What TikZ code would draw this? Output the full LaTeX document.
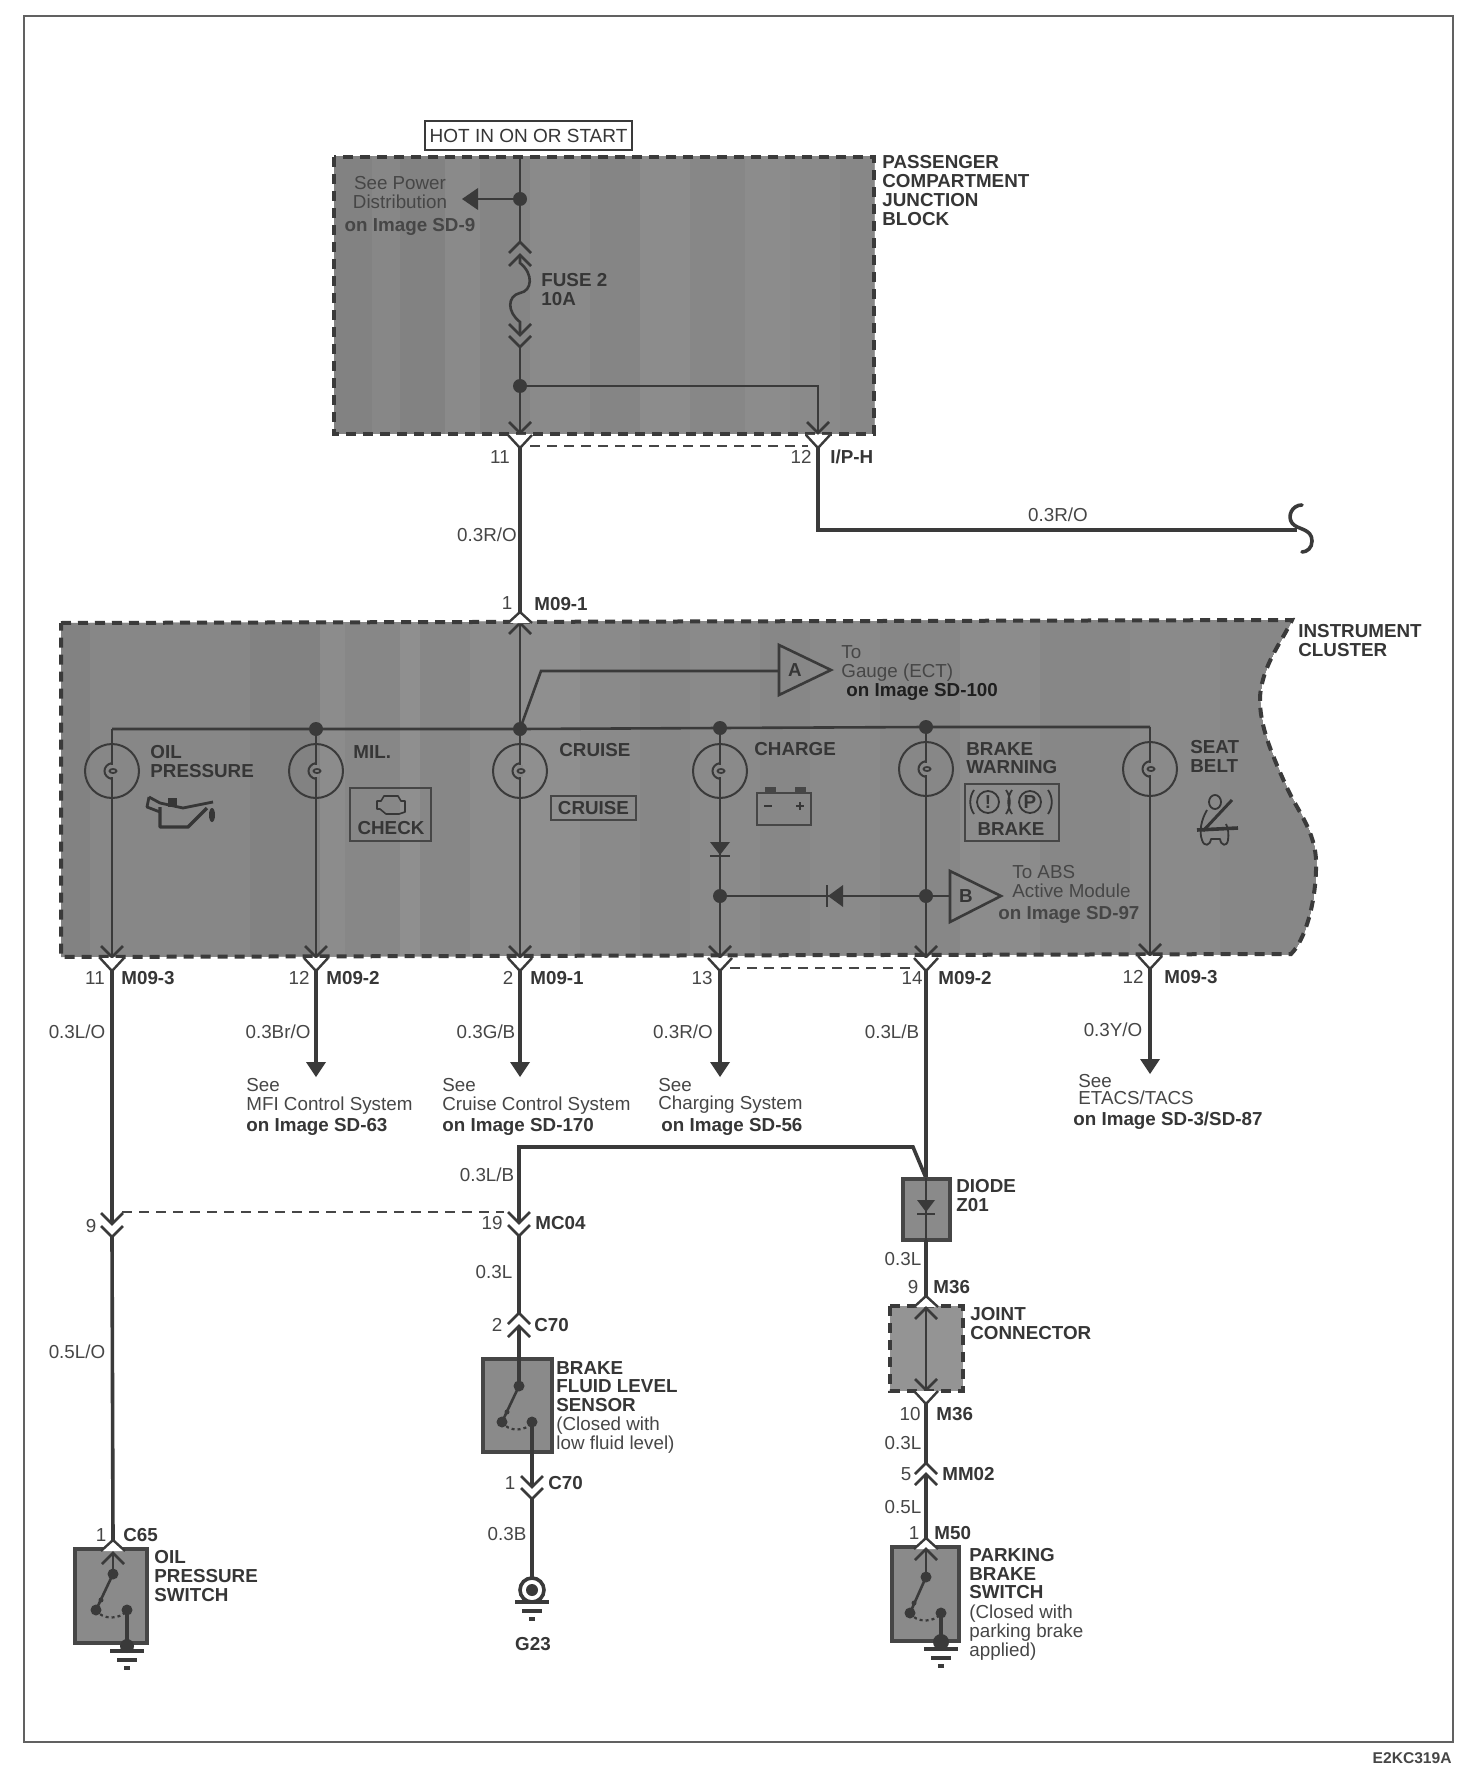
\documentclass[tikz,border=0pt]{standalone}
\usepackage{fontspec}
\setmainfont{Liberation Sans}
\definecolor{wirec}{HTML}{3A3A3A}
\definecolor{inkc}{HTML}{363636}
\definecolor{softc}{HTML}{464646}
\definecolor{boxc}{HTML}{8A8A8A}
\tikzset{
  txt/.style={inner sep=0pt,text height=6.7pt,text depth=0pt,anchor=west,font=\fontsize{9.4}{9.5}\selectfont,text=softc},
  txb/.style={txt,font=\fontsize{9.4}{9.5}\bfseries\selectfont,text=inkc},
  ctr/.style={txt,anchor=center},
  ctb/.style={txb,anchor=center},
  wire/.style={draw=wirec,line width=1.8pt},
  thin wire/.style={draw=wirec,line width=1.3pt},
  chev/.style={draw=wirec,line width=1.3pt,fill=none},
  jdot/.style={fill=wirec},
  dashbox/.style={draw=wirec,line width=2pt,dash pattern=on 5pt off 3.5pt},
  solidbox/.style={draw=softc,line width=2.2pt,fill=boxc},
  tie/.style={draw=softc,line width=.9pt,dash pattern=on 5pt off 3.5pt}
}
\newcommand{\chevDown}[2]{\draw[chev] (#1-11,#2-11)--(#1,#2)--(#1+11,#2-11);}
\newcommand{\chevUp}[2]{\draw[chev] (#1-11,#2+11)--(#1,#2)--(#1+11,#2+11);}
\newcommand{\whiteV}[2]{\path[fill=white,draw=wirec,line width=1.2pt] (#1-12,#2)--(#1,#2+13)--(#1+12,#2);}
\newcommand{\whiteA}[2]{\path[fill=white,draw=wirec,line width=1.2pt] (#1-12,#2+11)--(#1,#2)--(#1+12,#2+11);}
\newcommand{\lamp}[2]{%
  \fill[black!47] (#1-3,#2-6) rectangle (#1+3,#2+6);
  \draw[draw=wirec,line width=1pt] (#1,#2) circle [radius=27];
  \draw[draw=wirec,line width=1pt] (#1,#2-8) .. controls (#1-10,#2-6) and (#1-10,#2+6) .. (#1,#2+8);
  \draw[draw=wirec,line width=.9pt] (#1+1,#2) ellipse [x radius=3.5,y radius=2];
}
\newcommand{\gnd}[2]{%
  \draw[wirec,line width=2pt] (#1-17,#2)--(#1+17,#2);
  \draw[wirec,line width=2pt] (#1-10,#2+9)--(#1+10,#2+9);
  \draw[wirec,line width=2pt] (#1-3,#2+17)--(#1+3,#2+17);
}
\newcommand{\switchsym}[7]{%
  \fill[jdot] (#1,#2) circle [radius=5.5];
  \fill[jdot] (#3,#4) circle [radius=5.5];
  \fill[jdot] (#5,#4) circle [radius=5.5];
  \fill[jdot] (#6,#7) circle [radius=2.5];
  \draw[wirec,line width=1.3pt] (#1,#2)--(#3,#4);
  \draw[wirec,line width=1.1pt,dash pattern=on 1.5pt off 1.5pt] (#3,#4) .. controls (#3+6,#4+10) and (#5-6,#4+10) .. (#5,#4);
}
\newcommand{\clusterpath}{(61,623)--(1292,620) .. controls (1283,640) and (1262,665) .. (1260,697) .. controls (1259,725) and (1272,755) .. (1288,790) .. controls (1300,815) and (1318,835) .. (1316,870) .. controls (1315,905) and (1305,940) .. (1291,954)--(61,957)--cycle}
\begin{document}
\begin{tikzpicture}[x=0.5pt,y=-0.5pt]
\useasboundingbox (0,0) rectangle (1476,1786);
\fill[white] (0,0) rectangle (1476,1786);
\draw[draw=black!62,line width=1.2pt] (24,16) rectangle (1453,1742);
\node[txb,anchor=east,font=\fontsize{7.8}{9}\bfseries\selectfont,text=softc,text height=5.6pt] (figid) at (1452,1758) {E2KC319A};

% ---------- passenger compartment junction block
\node[draw=wirec,line width=1pt,minimum width=103.5pt,minimum height=14.5pt,inner sep=0pt,
      font=\fontsize{9.5}{9.5}\selectfont,text=inkc] (hot) at (528.5,135.5) {HOT IN ON OR START};
\begin{scope}
\clip (334,157) rectangle (874,434);
\foreach \bx/\bg in {334/49,372/47,400/49,445/46,480/48,530/46,590/48,640/45,690/47,745/45,790/46,840/47}{
  \fill[black!\bg] (\bx,150) rectangle (880,440);}
\end{scope}
\draw[dashbox] (334,157) rectangle (874,434);
\coordinate (jbtop) at (520,157);
\coordinate (jbtap) at (520,199);
\coordinate (jbarrow) at (478,199);
\coordinate (fuseT) at (520,242);
\coordinate (fuseB) at (520,347);
\coordinate (jbsplit) at (520,386);
\coordinate (jbcorner) at (818,386);
\coordinate (p11) at (520,433);
\coordinate (p12) at (818,433);
\draw[thin wire] (jbtop)--(fuseT);
\draw[thin wire] (jbtap)--(jbarrow);
\fill[wirec] (462,199)--(478,188)--(478,210)--cycle;
\fill[jdot] (jbtap) circle [radius=7];
\chevUp{520}{242}\chevUp{520}{255}
\draw[thin wire] (520,255)--(520,263) .. controls (534,274) and (532,291) .. (520,293) .. controls (507,296) and (507,312) .. (520,322)--(520,335);
\chevDown{520}{335}\chevDown{520}{347}
\draw[thin wire] (fuseB)--(p11);
\draw[thin wire] (jbsplit)--(jbcorner)--(p12);
\fill[jdot] (jbsplit) circle [radius=7];
\chevDown{520}{433}\chevDown{818}{433}
\whiteV{520}{435}\whiteV{818}{435}
\draw[tie] (530,446)--(808,446);
\node[txt,anchor=center] (tp1) at (400,183) {See Power};
\node[txt,anchor=center] (tp2) at (400,202) {Distribution};
\node[txb,anchor=center,text=softc] (tp3) at (410,225) {on Image SD-9};
\node[txb] (fs1) at (541,280) {FUSE 2};
\node[txb] (fs2) at (541,299) {10A};
\node[txb] (jb1) at (882,162) {PASSENGER};
\node[txb] (jb2) at (882,181) {COMPARTMENT};
\node[txb] (jb3) at (882,200) {JUNCTION};
\node[txb] (jb4) at (882,219) {BLOCK};
\node[ctr] (n11a) at (500,457) {11};
\node[ctr] (n12a) at (801,457) {12};
\node[txb] (ipH) at (830,457) {I/P-H};

% wires between the two blocks
\coordinate (w12a) at (818,448);
\coordinate (w12b) at (818,530);
\coordinate (w12c) at (1297,530);
\coordinate (p1) at (520,612);
\draw[wire] (520,448)--(p1);
\draw[wire] (w12a)--(w12b)--(w12c);
\draw[wirec,line width=1.8pt,line cap=round] (1302,505) .. controls (1292,505) and (1287,516) .. (1292,523) .. controls (1297,530) and (1312,528) .. (1312,541) .. controls (1312,548) and (1307,552) .. (1302,552);
\node[ctr] (wl1) at (487,535) {0.3R/O};
\node[ctr] (wl2) at (1058,515) {0.3R/O};
\node[ctr] (n1a) at (507,603) {1};
\node[txb] (m091a) at (534,604) {M09-1};

% ---------- instrument cluster
\begin{scope}
\clip \clusterpath;
\foreach \bx/\bg in {55/49,90/47,190/47,250/49,320/45,345/47,400/44,420/47,470/45,520/44,580/46,640/47,690/46,760/47,810/46,880/47,960/45,1040/47,1130/46,1220/47}{
  \fill[black!\bg] (\bx,610) rectangle (1330,965);}
\end{scope}
\draw[dashbox] \clusterpath;
\coordinate (busL) at (112,729);
\coordinate (busR) at (1150,727);
\coordinate (bOil) at (112,957);
\coordinate (bMil) at (316,957);
\coordinate (bCru) at (520,957);
\coordinate (bCha) at (720,957);
\coordinate (bBra) at (926,957);
\coordinate (bSea) at (1150,955);
\coordinate (dMil) at (316,729);
\coordinate (dCru) at (520,729);
\coordinate (dCha) at (720,728);
\coordinate (dBra) at (926,727);
\coordinate (kink) at (541,671);
\coordinate (dChaLow) at (720,896);
\coordinate (dBraLow) at (926,896);
\draw[thin wire] (busL)--(dMil)--(dCru)--(dCha)--(dBra)--(busR);
\draw[thin wire] (busL)--(bOil);
\draw[thin wire] (dMil)--(bMil);
\draw[thin wire] (p1)--(bCru);
\draw[thin wire] (dCha)--(bCha);
\draw[thin wire] (dBra)--(bBra);
\draw[thin wire] (busR)--(bSea);
\draw[thin wire] (dCru)--(kink)--(779,671);
\draw[thin wire] (dChaLow)--(dBraLow)--(950,896);
% lamps (on top of the vertical wires)
\lamp{112}{771}\lamp{316}{771}\lamp{520}{771}\lamp{720}{771}\lamp{926}{769}\lamp{1150}{769}
\foreach \nm in {dMil,dCru,dCha,dBra,dChaLow,dBraLow}{\fill[jdot] (\nm) circle [radius=7];}
% triangles
\node[ctb] (tA) at (795,670) {A};
\draw[wirec,line width=1.3pt] (779,645)--(831,670)--(779,695)--cycle;
\node[ctb] (tB) at (966,896) {B};
\draw[wirec,line width=1.3pt] (950,871)--(1001,896)--(950,922)--cycle;
% diodes
\fill[wirec] (710,842)--(730,842)--(720,855)--cycle;
\draw[wirec,line width=1.2pt] (710,856)--(730,856);
\fill[wirec] (843,885)--(843,907)--(828,896)--cycle;
\draw[wirec,line width=1.2pt] (827,885)--(827,907);
% icons and labels
\node[txb] (cl1) at (150,752) {OIL};
\node[txb] (cl2) at (150,771) {PRESSURE};
\node[txb] (cl3) at (353,752) {MIL.};
\node[txb] (cl4) at (559,750) {CRUISE};
\node[txb] (cl5) at (754,749) {CHARGE};
\node[txb] (cl6) at (966,749) {BRAKE};
\node[txb] (cl7) at (966,767) {WARNING};
\node[txb] (cl8) at (1190,747) {SEAT};
\node[txb] (cl9) at (1190,766) {BELT};
\node[txt] (gA1) at (841,652) {To};
\node[txt] (gA2) at (841,671) {Gauge (ECT)};
\node[txb,text=black!88] (gA3) at (846,690) {on Image SD-100};
\node[txt] (gB1) at (1012,872) {To ABS};
\node[txt] (gB2) at (1012,891) {Active Module};
\node[txb,text=softc] (gB3) at (998,913) {on Image SD-97};
% oil can
\draw[inkc,line width=1.7pt,line join=round] (160,807)--(160,827)--(188,827)--(207,808);
\draw[inkc,line width=1.4pt,line join=round] (149,797)--(147,807)--(160,812);
\draw[inkc,line width=1.4pt,line join=round] (149,797)--(160,803)--(183,808)--(213,802);
\fill[inkc] (168,798) rectangle (177,807);
\fill[inkc] (212,815) ellipse [x radius=3,y radius=7];
% check box
\draw[draw=softc,line width=1.1pt] (350,788) rectangle (431,841);
\draw[inkc,line width=.8pt,line join=round] (377,801)--(381,801)--(384,796)--(398,796)--(401,801)--(405,801)--(405,812)--(399,814)--(386,814)--(380,809)--(377,809)--cycle;
\node[ctb] (chk) at (391,828) {CHECK};
% cruise box
\node[draw=softc,line width=1.1pt,minimum width=42.5pt,minimum height=12pt,inner sep=0pt,
      font=\fontsize{9.4}{9.5}\bfseries\selectfont,text=inkc] (crz) at (593.5,808) {CRUISE};
% battery
\draw[draw=softc,line width=1.1pt] (757,793) rectangle (811,825);
\fill[softc] (765,787) rectangle (776,793);
\fill[softc] (795,787) rectangle (806,793);
\draw[draw=inkc,line width=1pt] (764,806)--(772,806);
\draw[draw=inkc,line width=1pt] (796,806)--(804,806) (800,802)--(800,810);
% brake box
\draw[draw=softc,line width=1.1pt] (965,784) rectangle (1059,841);
\draw[inkc,line width=.9pt] (988,802) circle [radius=11];
\draw[inkc,line width=.9pt] (1030,802) circle [radius=11];
\draw[inkc,line width=.9pt] (974,790) .. controls (969,797) and (969,807) .. (974,814);
\draw[inkc,line width=.9pt] (1006,790) .. controls (1011,797) and (1011,807) .. (1006,814);
\draw[inkc,line width=.9pt] (1012,790) .. controls (1007,797) and (1007,807) .. (1012,814);
\draw[inkc,line width=.9pt] (1048,790) .. controls (1053,797) and (1053,807) .. (1048,814);
\node[ctb] (bang) at (988,802) {!};
\node[ctb] (pee) at (1030,802) {P};
\node[ctb] (brk) at (1011,829) {BRAKE};
% seat belt
\draw[inkc,line width=.9pt] (1215,802) ellipse [x radius=6,y radius=7];
\draw[inkc,line width=.9pt,line join=round] (1207,810) .. controls (1201,820) and (1199,832) .. (1202,840) .. controls (1204,847) and (1210,846) .. (1211,839) -- (1220,839) .. controls (1221,846) and (1227,847) .. (1228,840) .. controls (1229,834) and (1228,828) .. (1226,824);
\draw[inkc,line width=1.5pt] (1232,800)--(1203,831);
\draw[inkc,line width=1.8pt] (1197,830)--(1238,828);
\node[txb] (ic1) at (1298,631) {INSTRUMENT};
\node[txb] (ic2) at (1298,650) {CLUSTER};

% cluster connectors
\chevUp{520}{623}
\whiteA{520}{612}
\foreach \px/\py in {112/957,316/957,520/957,720/957,926/957,1150/955}{
  \chevDown{\px}{\py}
  \whiteV{\px}{\py+1}
}
\draw[tie] (730,968)--(916,968);
\node[ctr] (n11b) at (95,978) {11};
\node[txb] (m093a) at (121,978) {M09-3};
\node[ctr] (n12b) at (299,978) {12};
\node[txb] (m092a) at (326,978) {M09-2};
\node[ctr] (n2b) at (508,978) {2};
\node[txb] (m091b) at (530,978) {M09-1};
\node[ctr] (n13b) at (702,978) {13};
\node[ctr] (n14b) at (912,978) {14};
\node[txb] (m092b) at (938,978) {M09-2};
\node[ctr] (n12c) at (1133,977) {12};
\node[txb] (m093b) at (1164,977) {M09-3};

% wires leaving the cluster
\begin{scope}[yshift=-1pt]
\coordinate (oOil) at (112,968);
\coordinate (oMil) at (316,968);
\coordinate (oCru) at (520,968);
\coordinate (oCha) at (720,968);
\coordinate (oBra) at (926,968);
\coordinate (oSea) at (1150,966);
\coordinate (tMil) at (316,1060);
\coordinate (tCru) at (520,1060);
\coordinate (tCha) at (720,1060);
\coordinate (tSea) at (1150,1057);
\draw[wire] (oMil)--(tMil);
\draw[wire] (oCru)--(tCru);
\draw[wire] (oCha)--(tCha);
\draw[wire] (oSea)--(tSea);
\fill[wirec] (306,1060)--(326,1060)--(316,1075)--cycle;
\fill[wirec] (510,1060)--(530,1060)--(520,1075)--cycle;
\fill[wirec] (710,1060)--(730,1060)--(720,1075)--cycle;
\fill[wirec] (1140,1057)--(1160,1057)--(1150,1072)--cycle;
\node[ctr] (wb1) at (77,1030) {0.3L/O};
\node[ctr] (wb2) at (278,1030) {0.3Br/O};
\node[ctr] (wb3) at (486,1030) {0.3G/B};
\node[ctr] (wb4) at (683,1030) {0.3R/O};
\node[ctr] (wb5) at (892,1030) {0.3L/B};
\node[ctr] (wb6) at (1113,1028) {0.3Y/O};
\node[txt] (s1a) at (246,1083) {See};
\node[txt] (s1b) at (246,1102) {MFI Control System};
\node[txb] (s1c) at (246,1123) {on Image SD-63};
\node[txt] (s2a) at (442,1083) {See};
\node[txt] (s2b) at (442,1102) {Cruise Control System};
\node[txb] (s2c) at (442,1123) {on Image SD-170};
\node[txt] (s3a) at (658,1083) {See};
\node[txt] (s3b) at (658,1101) {Charging System};
\node[txb] (s3c) at (661,1123) {on Image SD-56};
\node[txt] (s4a) at (1078,1079) {See};
\node[txt] (s4b) at (1078,1096) {ETACS/TACS};
\node[txb] (s4c) at (1073,1117) {on Image SD-3/SD-87};

% ---------- oil pressure branch, upper part
\coordinate (oJ1) at (112,1222);
\coordinate (oTop) at (113,1538);
\draw[wire] (oOil)--(oJ1);
\chevDown{112}{1222}\chevDown{112}{1235}
\draw[wire] (112,1235)--(oTop);
\draw[tie] (122,1210)--(504,1210);
\node[ctr] (n9) at (91,1224) {9};
\node[ctr] (wb7) at (77,1350) {0.5L/O};
\end{scope}

% ---------- oil pressure switch
\node[ctr] (n1c) at (101,1535) {1};
\node[txb] (c65) at (123,1535) {C65};
\draw[solidbox] (75,1549) rectangle (147,1643);
\whiteA{113}{1540}
\chevUp{113}{1553}
\coordinate (oS1) at (113,1574);
\coordinate (oS2) at (127,1609);
\draw[thin wire] (113,1553)--(oS1);
\switchsym{113}{1574}{96}{1610}{127}{101}{1600}
\draw[wirec,line width=1.6pt] (oS2)--(127,1651);
\fill[jdot] (127,1646) circle [radius=7];
\gnd{127}{1651}
\node[txb] (op1) at (154,1557) {OIL};
\node[txb] (op2) at (154,1576) {PRESSURE};
\node[txb] (op3) at (154,1595) {SWITCH};

% ---------- brake fluid level branch
\begin{scope}[yshift=-1pt]
\coordinate (lnA) at (519,1145);
\coordinate (lnB) at (913,1145);
\coordinate (lnC) at (926,1176);
\draw[wire] (oBra)--(lnC);
\draw[wire] (lnC)--(lnB)--(lnA)--(519,1221);
\node[ctr] (wb8) at (487,1173) {0.3L/B};
\chevDown{519}{1221}\chevDown{519}{1234}
\node[ctr] (n19) at (492,1221) {19};
\node[txb] (mc04) at (535,1221) {MC04};
\draw[wire] (519,1234)--(519,1311);
\node[ctr] (wb9) at (494,1270) {0.3L};
\chevUp{519}{1311}\chevUp{519}{1324}
\node[ctr] (n2c) at (497,1323) {2};
\node[txb] (c70a) at (534,1323) {C70};
\draw[solidbox] (483,1357) rectangle (552,1450);
\coordinate (bS1) at (519,1384);
\coordinate (bS2) at (532,1420);
\draw[wire] (519,1324)--(bS1);
\switchsym{519}{1384}{502}{1420}{532}{507}{1410}
\draw[wire] (bS2)--(532,1485);
\chevDown{532}{1485}\chevDown{532}{1497}
\node[ctr] (n1d) at (510,1481) {1};
\node[txb] (c70b) at (548,1481) {C70};
\coordinate (gC) at (532,1588);
\draw[wire] (532,1497)--(532,1575);
\node[ctr] (wb10) at (507,1532) {0.3B};
\draw[wirec,line width=1.8pt] (gC) circle [radius=12];
\fill[wirec] (gC) circle [radius=6];
\gnd{532}{1600}
\node[ctb] (g23) at (533,1642) {G23};
\node[txb] (bf1) at (556,1366) {BRAKE};
\node[txb] (bf2) at (556,1384) {FLUID LEVEL};
\node[txb] (bf3) at (556,1403) {SENSOR};
\node[txt] (bf4) at (556,1422) {(Closed with};
\node[txt] (bf5) at (556,1441) {low fluid level)};
\end{scope}

% ---------- diode, joint connector, parking brake branch
\begin{scope}[xshift=.5pt,yshift=-1pt]
\draw[solidbox] (902,1177) rectangle (949,1238);
\draw[thin wire] (925,1176)--(925,1238);
\fill[wirec] (916,1198)--(934,1198)--(925,1210)--cycle;
\draw[wirec,line width=1.2pt] (916,1212)--(934,1212);
\node[txb] (dz1) at (955,1184) {DIODE};
\node[txb] (dz2) at (955,1203) {Z01};
\draw[wire] (925,1238)--(925,1294);
\node[ctr] (wc1) at (902,1257) {0.3L};
\node[ctr] (n9c) at (912,1285) {9};
\node[txb] (m36a) at (932,1285) {M36};
\path[fill=black!42] (889,1304) rectangle (962,1389);
\draw[dashbox] (889,1304) rectangle (962,1389);
\whiteA{925}{1294}
\chevUp{925}{1306}
\draw[thin wire] (925,1306)--(925,1388);
\chevDown{925}{1388}
\whiteV{925}{1389}
\node[txb] (jc1) at (969,1312) {JOINT};
\node[txb] (jc2) at (969,1331) {CONNECTOR};
\draw[wire] (925,1401)--(925,1461);
\node[ctr] (n10) at (909,1412) {10};
\node[txb] (m36b) at (935,1412) {M36};
\node[ctr] (wc2) at (902,1441) {0.3L};
\chevUp{925}{1461}\chevUp{925}{1472}
\node[ctr] (n5) at (905,1472) {5};
\node[txb] (mm02) at (941,1472) {MM02};
\draw[wire] (925,1472)--(925,1537);
\node[ctr] (wc3) at (902,1505) {0.5L};
\node[ctr] (n1e) at (913,1531) {1};
\node[txb] (m50) at (933,1531) {M50};
\draw[solidbox] (891,1545) rectangle (958,1639);
\whiteA{925}{1536}
\chevUp{925}{1547}
\coordinate (pS1) at (925,1575);
\coordinate (pS2) at (940,1611);
\draw[thin wire] (925,1547)--(pS1);
\switchsym{925}{1575}{909}{1611}{940}{913}{1601}
\draw[wirec,line width=1.6pt] (pS2)--(940,1647);
\fill[jdot] (940,1640) circle [radius=8];
\gnd{940}{1647}
\node[txb] (pb1) at (968,1553) {PARKING};
\node[txb] (pb2) at (968,1572) {BRAKE};
\node[txb] (pb3) at (968,1590) {SWITCH};
\node[txt] (pb4) at (968,1610) {(Closed with};
\node[txt] (pb5) at (968,1629) {parking brake};
\node[txt] (pb6) at (968,1648) {applied)};
\end{scope}
\end{tikzpicture}
\end{document}
